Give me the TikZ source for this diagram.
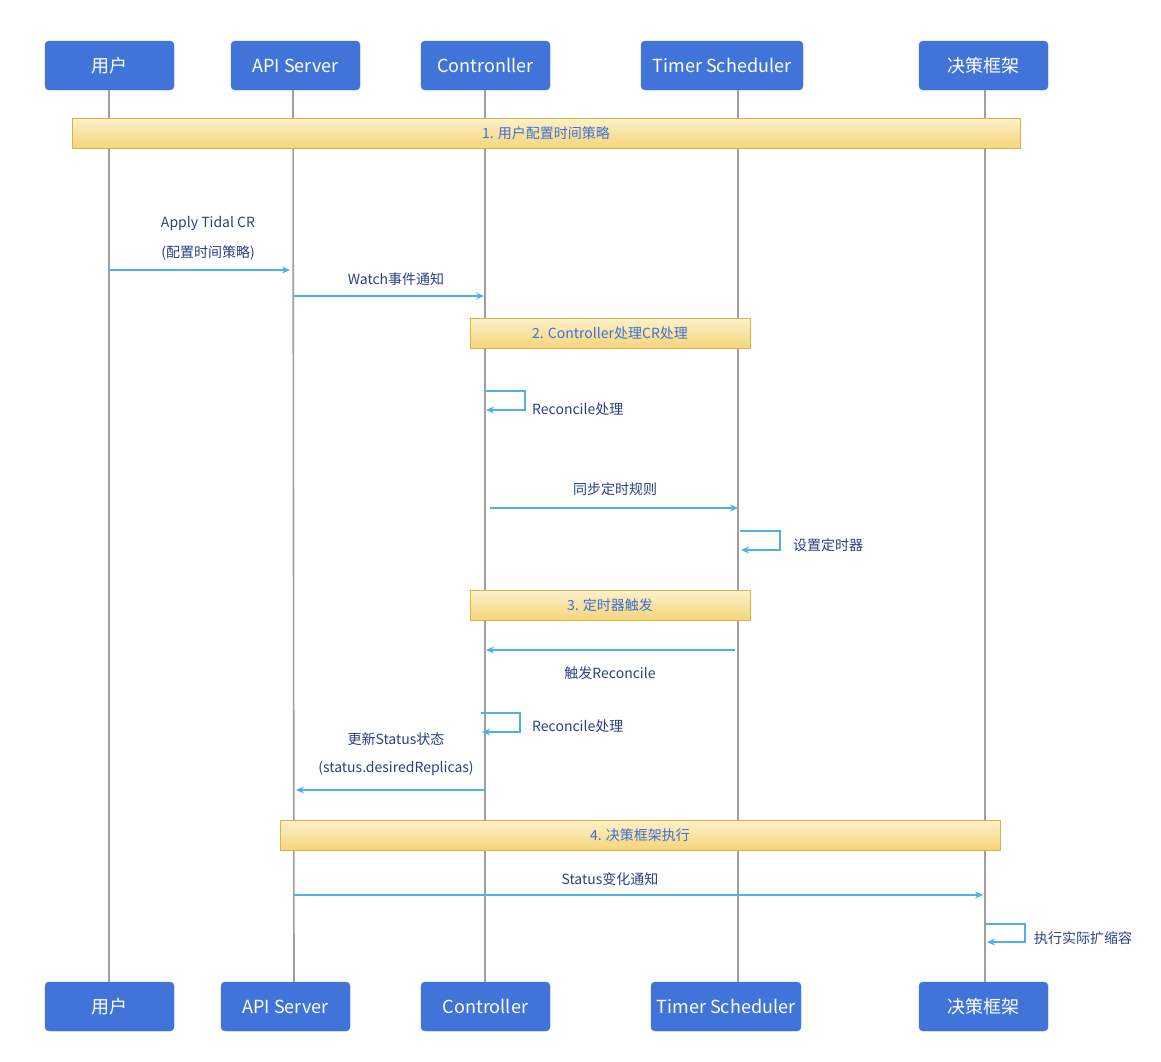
\documentclass[tikz,border=0pt]{standalone}
\usepackage{fontspec}
\setmainfont{Noto Sans CJK SC}
\usetikzlibrary{positioning,arrows.meta}
\definecolor{actorblue}{HTML}{4174D9}
\definecolor{msgline}{HTML}{4FB0E3}
\definecolor{msgtext}{HTML}{2A3F7E}
\definecolor{notetext}{HTML}{3B70D6}
\definecolor{notetop}{HTML}{FDF1CB}
\definecolor{notebot}{HTML}{F5D57A}
\definecolor{noteedge}{HTML}{D8B447}
\tikzset{
  actor/.style={draw=actorblue, fill=actorblue, rounded corners=4pt, text=white,
    font=\fontsize{18}{20}\selectfont, minimum height=49pt, inner sep=0pt},
  life/.style={gray!75, line width=1.6pt},
  note/.style={draw=noteedge, top color=notetop, bottom color=notebot, text=notetext,
    font=\fontsize{14}{16}\selectfont, minimum height=30pt, inner sep=0pt},
  msg/.style={msgline, line width=1.4pt, -{Stealth[length=8pt,width=7pt]}},
  lbl/.style={text=msgtext, font=\fontsize{14}{16}\selectfont, inner sep=0pt}
}
\begin{document}
\begin{tikzpicture}[x=1pt,y=-1pt]
\useasboundingbox (0,0) rectangle (1161,1061);
% actors, top row
\node[actor, minimum width=129pt] (userT) at (109.5,65.5) {用户};
\node[actor, minimum width=129pt] (apiT) at (295.5,65.5) {API Server};
\node[actor, minimum width=129pt] (ctrlT) at (485.5,65.5) {Contronller};
\node[actor, minimum width=162pt] (timerT) at (722,65.5) {Timer Scheduler};
\node[actor, minimum width=129pt] (decT) at (983.5,65.5) {决策框架};
% actors, bottom row
\node[actor, minimum width=129pt] (userB) at (109.5,1006.5) {用户};
\node[actor, minimum width=129pt] (apiB) at (285.5,1006.5) {API Server};
\node[actor, minimum width=129pt] (ctrlB) at (485.5,1006.5) {Controller};
\node[actor, minimum width=150pt] (timerB) at (726,1006.5) {Timer Scheduler};
\node[actor, minimum width=129pt] (decB) at (983.5,1006.5) {决策框架};
% lifelines
\draw[life] (109,90) -- (109,982);
\draw[life] (293,90) -- (294,982);
\draw[life] (485,90) -- (485,982);
\draw[life] (738,90) -- (738,982);
\draw[life] (985,90) -- (985,982);
% phase notes
\node[note, minimum width=948pt] (n1) at (546,133) {1. 用户配置时间策略};
\node[note, minimum width=280pt] (n2) at (610,333) {2. Controller处理CR处理};
\node[note, minimum width=280pt] (n3) at (610,605) {3. 定时器触发};
\node[note, minimum width=720pt] (n4) at (640,835) {4. 决策框架执行};
% message end points
\coordinate (u1) at (110,270);  \coordinate (a1) at (290,270);
\coordinate (a2) at (294,296);  \coordinate (c2) at (484,296);
\coordinate (c3) at (490,508);  \coordinate (t3) at (738,508);
\coordinate (t4) at (735,650);  \coordinate (c4) at (486,650);
\coordinate (c5) at (485,790);  \coordinate (a5) at (296,790);
\coordinate (a6) at (294,895);  \coordinate (d6) at (983,895);
% messages
\draw[msg] (u1) -- (a1);
\node[lbl] (m1a) at (208,224) {Apply Tidal CR};
\node[lbl] (m1b) at (208,253) {(配置时间策略)};
\draw[msg] (a2) -- (c2);
\node[lbl] (m2) at (396,279) {Watch事件通知};
\draw[msg] (485,391) -- (525,391) -- (525,410) -- (486,410);
\node[lbl, anchor=west] (m3) at (532,409) {Reconcile处理};
\draw[msg] (c3) -- (t3);
\node[lbl] (m4) at (615,489) {同步定时规则};
\draw[msg] (740,531) -- (780,531) -- (780,550) -- (741,550);
\node[lbl, anchor=west] (m5) at (793,545) {设置定时器};
\draw[msg] (t4) -- (c4);
\node[lbl] (m6) at (610,673) {触发Reconcile};
\draw[msg] (481,713) -- (520,713) -- (520,732) -- (482,732);
\node[lbl, anchor=west] (m7) at (532,726) {Reconcile处理};
\draw[msg] (c5) -- (a5);
\node[lbl] (m8a) at (396,739) {更新Status状态};
\node[lbl] (m8b) at (396,768) {(status.desiredReplicas)};
\draw[msg] (a6) -- (d6);
\node[lbl] (m9) at (610,879) {Status变化通知};
\draw[msg] (986,924) -- (1025,924) -- (1025,942) -- (987,942);
\node[lbl, anchor=west] (m10) at (1034,938) {执行实际扩缩容};
\end{tikzpicture}
\end{document}
